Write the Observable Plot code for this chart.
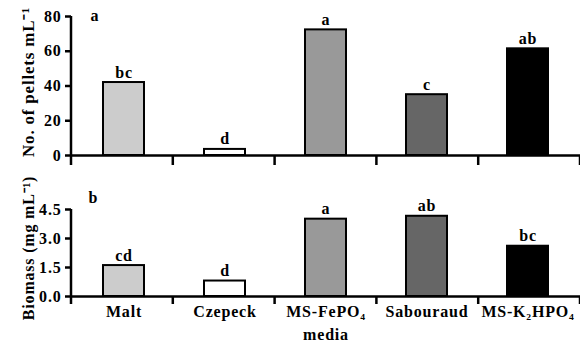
<!DOCTYPE html>
<html>
<head>
<meta charset="utf-8">
<script src="https://cdn.jsdelivr.net/npm/d3@7"></script>
<script src="https://cdn.jsdelivr.net/npm/@observablehq/plot@0.6"></script>
<style>
  html, body { margin: 0; padding: 0; background: #fff; }
  #chart { width: 580px; }
  #chart svg { display: block; }
</style>
</head>
<body>
<div id="chart"></div>
<script>
const media = ["Malt", "Czepeck", "MS-FePO₄", "Sabouraud", "MS-K₂HPO₄"];
const fills = ["#cccccc", "#ffffff", "#999999", "#666666", "#000000"];
const pellets = [42, 3.5, 72.3, 35, 61.4];
const pelletLetters = ["bc", "d", "a", "c", "ab"];
const biomass = [1.6, 0.8, 4.0, 4.15, 2.6];
const biomassLetters = ["cd", "d", "a", "ab", "bc"];
const pelletTicks = [0, 20, 40, 60, 80];
const biomassTicks = [0, 1.5, 3.0, 4.5];

const FONT = "'Liberation Serif', 'Times New Roman', serif";

function stubs(len, yTop) {
  return (index, scales, values, dims) => {
    const y = scales.y;
    const n = media.length;
    const r0 = dims.marginLeft, r1 = dims.width - dims.marginRight;
    const y0 = y(0);
    const g = d3.create("svg:g").attr("stroke", "black").attr("stroke-width", 2.5);
    for (let i = 0; i <= n; i++) {
      const xx = r0 + i * (r1 - r0) / n;
      g.append("line").attr("x1", xx).attr("x2", xx).attr("y1", y0).attr("y2", y0 + len);
    }
    g.append("line").attr("x1", r0).attr("x2", r0).attr("y1", y(yTop)).attr("y2", y0);
    return g.node();
  };
}

function panel({values, letters, ticks, fmt, ymax, height, mt, mb, tag, tagDx, tagDy, ylabel, ylabelDy, ylabelSize, ylabelSpacing, xAxis, stubLen}) {
  const rows = media.map((m, i) => ({medium: m, value: values[i], letter: letters[i]}));
  const marks = [
    Plot.barY(rows, {x: "medium", y: "value", fill: "medium", stroke: "black", strokeWidth: 2}),
    Plot.ruleY([0], {stroke: "black", strokeWidth: 2.5}),
    stubs(stubLen, ymax),
    Plot.text(rows, {x: "medium", y: "value", text: "letter", lineAnchor: "bottom", dy: -5, fontSize: 16, fontWeight: "bold"}),
    Plot.text([tag], {frameAnchor: "top-left", textAnchor: "start", lineAnchor: "bottom", dx: tagDx, dy: tagDy, fontSize: 16, fontWeight: "bold"}),
    Plot.text([ylabel], {frameAnchor: "left", rotate: -90, textAnchor: "middle", lineAnchor: "bottom", dx: -38, dy: ylabelDy, fontSize: ylabelSize, fontWeight: "bold", ariaLabel: "ylabel"})
  ];
  if (xAxis) {
    marks.push(Plot.text(["media"], {frameAnchor: "bottom", lineAnchor: "bottom", dy: 43, fontSize: 16, fontWeight: "bold"}));
  }
  const svg = Plot.plot({
    width: 580,
    height,
    marginTop: mt,
    marginBottom: mb,
    marginLeft: 71,
    marginRight: 0,
    style: {fontFamily: FONT, fontSize: "16px", fontWeight: "bold", letterSpacing: "0.8px", background: "white", color: "black"},
    x: xAxis
      ? {type: "band", domain: media, paddingInner: 0.59, paddingOuter: 0.295, align: 0.5, tickSize: 0, tickPadding: 9, label: null}
      : {type: "band", domain: media, paddingInner: 0.59, paddingOuter: 0.295, align: 0.5, axis: null},
    y: {domain: [0, ymax], ticks, tickFormat: fmt, tickSize: 6, tickPadding: 4, label: null},
    color: {domain: media, range: fills},
    marks
  });
  const s = d3.select(svg);
  s.selectAll('g[aria-label="ylabel"]').attr("letter-spacing", ylabelSpacing);
  s.selectAll('g[aria-label^="y-axis"] path, g[aria-label^="y-axis"] line').attr("stroke-width", 2.5);
  s.selectAll('g[aria-label^="y-axis"]').attr("stroke-width", 2.5);
  return svg;
}

const chart = document.getElementById("chart");
chart.append(panel({
  values: pellets, letters: pelletLetters, ticks: pelletTicks, fmt: d3.format("d"), ymax: 80,
  height: 173, mt: 16, mb: 18, tag: "a", tagDx: 19, tagDy: 4,
  ylabel: "No. of pellets mL⁻¹", ylabelDy: -4, ylabelSize: 17, ylabelSpacing: "0.5px",
  xAxis: false, stubLen: 10
}));
chart.append(panel({
  values: biomass, letters: biomassLetters, ticks: biomassTicks, fmt: d3.format(".1f"), ymax: 4.5,
  height: 173, mt: 36, mb: 50, tag: "b", tagDx: 17, tagDy: -7,
  ylabel: "Biomass (mg mL⁻¹)", ylabelDy: -5, ylabelSize: 16, ylabelSpacing: "0px",
  xAxis: true, stubLen: 8
}));
</script>
</body>
</html>
